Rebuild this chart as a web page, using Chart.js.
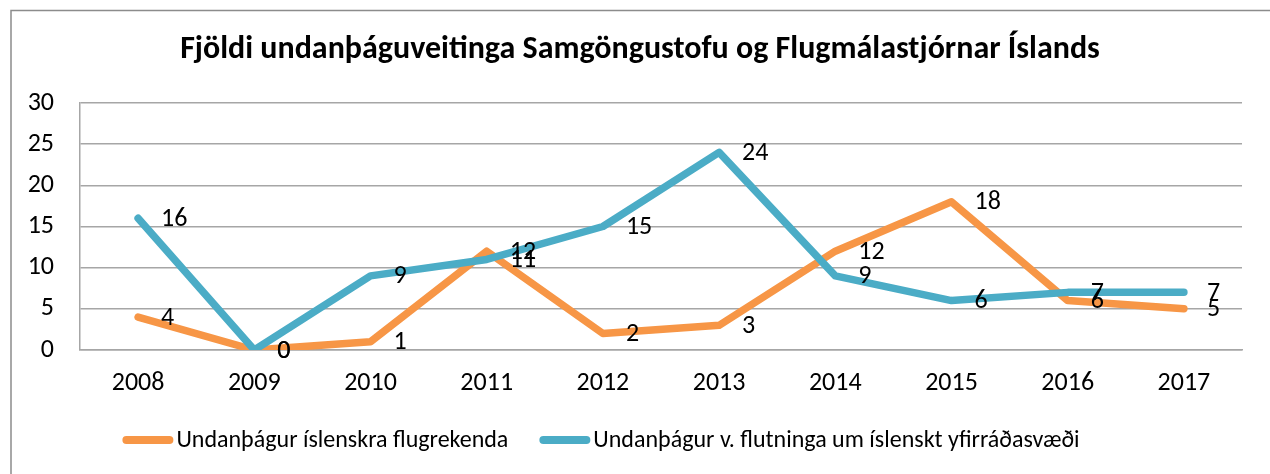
<!DOCTYPE html>
<html>
<head>
<meta charset="utf-8">
<script src="https://cdn.jsdelivr.net/npm/chart.js@4.4.1/dist/chart.umd.min.js"></script>
<style>
  html, body { margin: 0; padding: 0; background: #fff; }
</style>
</head>
<body>
<canvas id="canvas-1" width="1270" height="474"></canvas>
<script>
(function () {
    'use strict';

    var years = ['2008', '2009', '2010', '2011', '2012', '2013', '2014', '2015', '2016', '2017'];
    var flugrekendur = [4, 0, 1, 12, 2, 3, 12, 18, 6, 5];
    var yfirradasvaedi = [16, 0, 9, 11, 15, 24, 9, 6, 7, 7];
    var seriesNames = ['Undanþágur íslenskra flugrekenda', 'Undanþágur v. flutninga um íslenskt yfirráðasvæði'];
    var chartTitle = 'Fjöldi undanþáguveitinga Samgöngustofu og Flugmálastjórnar Íslands';

    var fontName = 'Carlito, Calibri, "Liberation Sans", sans-serif';
    var gridColor = '#a6a6a6';

    // outer frame + title (title centred on the whole frame, not the plot)
    var framePlugin = {
        id: 'frame',
        beforeDraw: function (chart) {
            var ctx = chart.ctx;
            ctx.save();
            ctx.strokeStyle = '#8c8c8c';
            ctx.lineWidth = 1.5;
            ctx.beginPath();
            ctx.moveTo(11, chart.height);
            ctx.lineTo(11, 10.5);
            ctx.lineTo(chart.width, 10.5);
            ctx.stroke();
            ctx.font = 'bold 32px ' + fontName;
            ctx.fillStyle = '#000';
            ctx.textAlign = 'center';
            ctx.textBaseline = 'middle';
            ctx.fillText(chartTitle, 640, 50);
            ctx.restore();
        }
    };

    // value labels to the right of each point
    var valueLabels = {
        id: 'valueLabels',
        afterDatasetsDraw: function (chart) {
            var ctx = chart.ctx;
            ctx.save();
            ctx.font = '26px ' + fontName;
            ctx.fillStyle = '#000';
            ctx.textAlign = 'left';
            ctx.textBaseline = 'middle';
            chart.data.datasets.forEach(function (ds, i) {
                var meta = chart.getDatasetMeta(i);
                meta.data.forEach(function (pt, j) {
                    ctx.fillText(String(ds.data[j]), pt.x + 23, pt.y + 1);
                });
            });
            ctx.restore();
        }
    };

    // excel style legend: short thick line, text right after it
    var excelLegend = {
        id: 'excelLegend',
        afterDraw: function (chart) {
            var ctx = chart.ctx;
            var centerX = 601, y = 440, swatch = 51, gapText = 3, gapItem = 31;
            ctx.save();
            ctx.font = '24px ' + fontName;
            ctx.textBaseline = 'middle';
            ctx.textAlign = 'left';
            var items = chart.data.datasets.map(function (ds) {
                return { text: ds.label, color: ds.borderColor, w: ctx.measureText(ds.label).width };
            });
            var total = 0;
            items.forEach(function (it, i) {
                total += swatch + gapText + it.w + (i > 0 ? gapItem : 0);
            });
            var x = centerX - total / 2;
            items.forEach(function (it) {
                ctx.strokeStyle = it.color;
                ctx.lineWidth = 8;
                ctx.lineCap = 'round';
                ctx.beginPath();
                ctx.moveTo(x + 4, y);
                ctx.lineTo(x + swatch - 4, y);
                ctx.stroke();
                ctx.fillStyle = '#000';
                ctx.fillText(it.text, x + swatch + gapText, y + 1);
                x += swatch + gapText + it.w + gapItem;
            });
            ctx.restore();
        }
    };

    var lineChartData = {
        labels: years,
        datasets: [
            {
                label: seriesNames[0],
                data: flugrekendur,
                borderColor: '#f79646',
                backgroundColor: '#f79646',
                borderWidth: 7.5,
                borderCapStyle: 'round',
                borderJoinStyle: 'round',
                pointRadius: 0,
                tension: 0,
                order: 1
            },
            {
                label: seriesNames[1],
                data: yfirradasvaedi,
                borderColor: '#4bacc6',
                backgroundColor: '#4bacc6',
                borderWidth: 7.5,
                borderCapStyle: 'round',
                borderJoinStyle: 'round',
                pointRadius: 0,
                tension: 0,
                order: 0
            }
        ]
    };

    var ctx = document.getElementById('canvas-1');
    var chart = new Chart(ctx, {
        type: 'line',
        data: lineChartData,
        plugins: [framePlugin, valueLabels, excelLegend],
        options: {
            responsive: false,
            animation: false,
            layout: {
                padding: { left: 0, right: 28, top: 103, bottom: 56 }
            },
            plugins: {
                tooltip: { enabled: false },
                legend: { display: false },
                title: { display: false }
            },
            scales: {
                x: {
                    offset: true,
                    afterFit: function (scale) { scale.height = 68; },
                    grid: { display: false, drawTicks: false, offset: true },
                    border: { display: true, color: gridColor, width: 1.5 },
                    ticks: {
                        color: '#000',
                        font: { family: fontName, size: 26 },
                        padding: 18,
                        maxRotation: 0
                    }
                },
                y: {
                    min: 0,
                    max: 30,
                    afterFit: function (scale) { scale.width = 80; },
                    grid: { color: gridColor, lineWidth: 1.5, drawTicks: false },
                    border: { display: true, color: gridColor, width: 1.5 },
                    ticks: {
                        stepSize: 5,
                        color: '#000',
                        font: { family: fontName, size: 26 },
                        padding: 26
                    }
                }
            }
        }
    });
})();
</script>
</body>
</html>
